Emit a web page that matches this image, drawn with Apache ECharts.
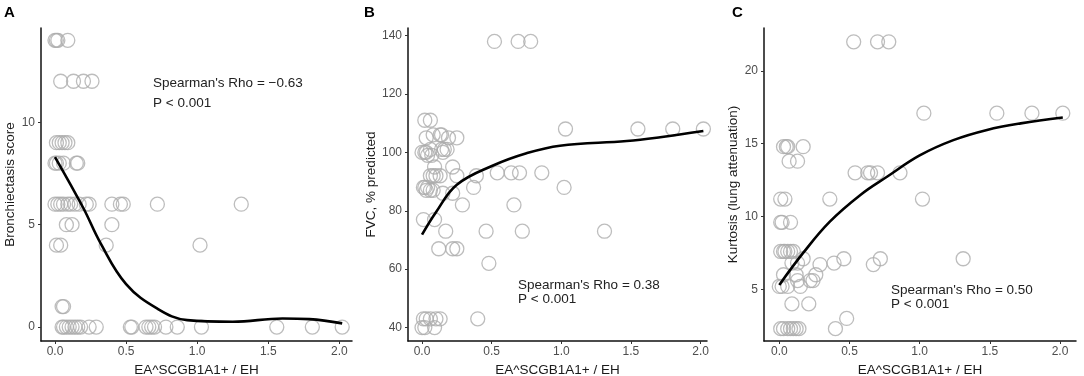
<!DOCTYPE html>
<html>
<head>
<meta charset="utf-8">
<script src="https://cdn.jsdelivr.net/npm/echarts@6/dist/echarts.min.js"></script>
<style>
  html, body { margin: 0; padding: 0; background: #fff; }
  #chart { width: 1084px; height: 376px; }
</style>
</head>
<body>
<div id="chart"></div>
<script>
// panel A: bronchiectasis score
const aX = [0.0, 0.01, 0.02, 0.09,
  0.04, 0.13, 0.2, 0.26,
  0.01, 0.03, 0.05, 0.07, 0.09,
  0.0, 0.01, 0.03, 0.06, 0.15, 0.16,
  0.0, 0.02, 0.04, 0.06, 0.09, 0.11, 0.14, 0.17, 0.22, 0.24, 0.4, 0.46, 0.48, 0.72, 1.31,
  0.08, 0.12, 0.4,
  0.01, 0.04, 0.36, 1.02,
  0.05, 0.06,
  0.05, 0.06, 0.08, 0.1, 0.12, 0.14, 0.16, 0.18, 0.24, 0.29, 0.53, 0.54, 0.64, 0.66, 0.68, 0.7, 0.78, 0.86, 1.03, 1.56, 1.81, 2.02]
const aY = [14, 14, 14, 14,
  12, 12, 12, 12,
  9, 9, 9, 9, 9,
  8, 8, 8, 8, 8, 8,
  6, 6, 6, 6, 6, 6, 6, 6, 6, 6, 6, 6, 6, 6, 6,
  5, 5, 5,
  4, 4, 4, 4,
  1, 1,
  0, 0, 0, 0, 0, 0, 0, 0, 0, 0, 0, 0, 0, 0, 0, 0, 0, 0, 0, 0, 0, 0]
const fitAX = [0.0, 0.2, 0.32, 0.5, 0.72, 0.93, 1.25, 1.6, 1.79, 2.02]
const fitAY = [8.3, 5.8, 4.1, 2.1, 0.9, 0.34, 0.26, 0.42, 0.39, 0.18]

// panel B: FVC % predicted
const bX = [0.52, 0.69, 0.78,
  0.02, 0.06,
  1.03, 1.55, 1.8, 2.02,
  0.08, 0.13, 0.14,
  0.03, 0.19, 0.25,
  0.06, 0.14, 0.16, 0.18,
  0.0, 0.02, 0.03, 0.15,
  0.04, 0.07,
  0.09, 0.22,
  0.54, 0.64, 0.7, 0.86,
  0.06, 0.08, 0.1, 0.13, 0.25, 0.39,
  0.01, 0.02, 0.04, 0.37, 1.02,
  0.03, 0.06, 0.08,
  0.15, 0.22,
  0.29, 0.66,
  0.01, 0.09,
  0.17, 0.46, 0.72, 1.31,
  0.12, 0.22, 0.25,
  0.48,
  0.01, 0.03, 0.06, 0.1, 0.13, 0.4,
  0.0, 0.02, 0.09]
const bY = [138, 138, 138,
  111, 111,
  108, 108, 108, 108,
  106, 106, 106,
  105, 105, 105,
  101, 101, 101, 101,
  100, 100, 100, 100,
  99, 99,
  95, 95,
  93, 93, 93, 93,
  92, 92, 92, 92, 92, 92,
  88, 88, 88, 88, 88,
  87, 87, 87,
  86, 86,
  82, 82,
  77, 77,
  73, 73, 73, 73,
  67, 67, 67,
  62,
  43, 43, 43, 43, 43, 43,
  40, 40, 40]
const fitBX = [0.0, 0.1, 0.25, 0.51, 0.75, 0.99, 1.47, 1.71, 2.02]
const fitBY = [71.8, 79.5, 88.9, 95.5, 99.7, 102.3, 103.9, 105.2, 107.3]

// panel C: kurtosis
const cX = [0.53, 0.7, 0.78,
  1.03, 1.55, 1.8, 2.02,
  0.03, 0.05, 0.06, 0.17,
  0.07, 0.13,
  0.54, 0.63, 0.65, 0.7, 0.86,
  0.01, 0.04, 0.36, 1.02,
  0.01, 0.02, 0.08,
  0.01, 0.03, 0.04, 0.06, 0.08, 0.1,
  0.17, 0.46, 0.72, 1.31,
  0.09, 0.13, 0.29, 0.39, 0.67,
  0.03, 0.12, 0.26,
  0.13, 0.22, 0.24,
  0.0, 0.02, 0.06, 0.15,
  0.09, 0.21,
  0.48,
  0.01, 0.03, 0.06, 0.08, 0.1, 0.12, 0.14, 0.4]
const cY = [22, 22, 22,
  17.1, 17.1, 17.1, 17.1,
  14.8, 14.8, 14.8, 14.8,
  13.8, 13.8,
  13, 13, 13, 13, 13,
  11.2, 11.2, 11.2, 11.2,
  9.6, 9.6, 9.6,
  7.6, 7.6, 7.6, 7.6, 7.6, 7.6,
  7.1, 7.1, 7.1, 7.1,
  6.8, 6.8, 6.7, 6.8, 6.7,
  6.0, 6.0, 6.0,
  5.6, 5.6, 5.6,
  5.2, 5.2, 5.2, 5.2,
  4.0, 4.0,
  3.0,
  2.3, 2.3, 2.3, 2.3, 2.3, 2.3, 2.3, 2.3]
const fitCX = [0.0, 0.17, 0.36, 0.58, 0.77, 1.0, 1.24, 1.48, 1.72, 2.02]
const fitCY = [5.3, 7.5, 9.65, 11.5, 12.75, 14.2, 15.25, 15.95, 16.4, 16.8]

const xTicks = [0, 0.5, 1, 1.5, 2]
const aTicks = [0, 5, 10]
const bTicks = [40, 60, 80, 100, 120, 140]
const cTicks = [5, 10, 15, 20]

const xTitle = 'EA^SCGB1A1+ / EH'
const yTitles = ['Bronchiectasis score', 'FVC, % predicted', 'Kurtosis (lung attenuation)']

const FONT = '"Liberation Sans", Arial, sans-serif'

const zip = (xs, ys) => xs.map((x, i) => [x, ys[i]])

const chart = echarts.init(document.getElementById('chart'))

const grids = [
    { left: 41, top: 28, width: 311, height: 313 },
    { left: 408, top: 28, width: 299, height: 313 },
    { left: 764, top: 28, width: 312, height: 313 }
]

const xRanges = [[-0.0985, 2.089], [-0.1007, 2.046], [-0.109, 2.114]]
const yRanges = [[-0.68, 14.6], [35.4, 142.6], [1.45, 22.95]]
const yTickSets = [aTicks, bTicks, cTicks]
const yNameGaps = [22, 30, 22]

const axisLine = { show: true, onZero: false, lineStyle: { color: '#111', width: 1.5 } }
const axisTick = (vals) => ({ show: true, length: 3, lineStyle: { color: '#333', width: 1 }, customValues: vals })

const xAxes = grids.map((g, i) => ({
    type: 'value',
    gridIndex: i,
    min: xRanges[i][0],
    max: xRanges[i][1],
    axisLine,
    axisTick: axisTick(xTicks),
    splitLine: { show: false },
    axisLabel: {
        customValues: xTicks,
        formatter: v => v.toFixed(1),
        color: '#4d4d4d',
        fontSize: 12,
        fontFamily: FONT,
        margin: 5
    },
    name: xTitle,
    nameLocation: 'middle',
    nameGap: 19,
    nameTextStyle: { color: '#1a1a1a', fontSize: 13.5, fontFamily: FONT }
}))

const yAxes = grids.map((g, i) => ({
    type: 'value',
    gridIndex: i,
    min: yRanges[i][0],
    max: yRanges[i][1],
    axisLine,
    axisTick: axisTick(yTickSets[i]),
    splitLine: { show: false },
    axisLabel: {
        customValues: yTickSets[i],
        color: '#4d4d4d',
        fontSize: 12,
        fontFamily: FONT,
        margin: 6
    },
    name: yTitles[i],
    nameLocation: 'middle',
    nameRotate: 90,
    nameGap: yNameGaps[i],
    nameTextStyle: { color: '#1a1a1a', fontSize: 13.5, fontFamily: FONT }
}))

const scatter = (data, i) => ({
    type: 'scatter',
    xAxisIndex: i,
    yAxisIndex: i,
    data,
    symbol: 'circle',
    symbolSize: 14,
    itemStyle: { color: 'rgba(255,255,255,0)', borderColor: '#acacac', borderWidth: 1.3 },
    silent: true
})

const fit = (data, i) => ({
    type: 'line',
    xAxisIndex: i,
    yAxisIndex: i,
    data,
    smooth: 0.4,
    showSymbol: false,
    lineStyle: { color: '#000', width: 2.6 },
    silent: true,
    z: 5
})

const txt = (x, y, text, extra) => ({
    type: 'text',
    x, y,
    style: Object.assign({ text, fill: '#222', font: '13.5px ' + FONT, verticalAlign: 'middle' }, extra || {})
})

chart.setOption({
    animation: false,
    grid: grids.map(g => Object.assign({ containLabel: false, outerBoundsMode: 'none' }, g)),
    xAxis: xAxes,
    yAxis: yAxes,
    series: [
        scatter(zip(aX, aY), 0), fit(zip(fitAX, fitAY), 0),
        scatter(zip(bX, bY), 1), fit(zip(fitBX, fitBY), 1),
        scatter(zip(cX, cY), 2), fit(zip(fitCX, fitCY), 2)
    ],
    graphic: [
        txt(4, 13, 'A', { font: 'bold 15px ' + FONT, fill: '#000' }),
        txt(364, 13, 'B', { font: 'bold 15px ' + FONT, fill: '#000' }),
        txt(732, 13, 'C', { font: 'bold 15px ' + FONT, fill: '#000' }),
        txt(153, 83, "Spearman's Rho = \u22120.63"),
        txt(153, 103, 'P < 0.001'),
        txt(518, 285, "Spearman's Rho = 0.38"),
        txt(518, 299, 'P < 0.001'),
        txt(891, 290, "Spearman's Rho = 0.50"),
        txt(891, 304, 'P < 0.001')
    ]
})
</script>
</body>
</html>
